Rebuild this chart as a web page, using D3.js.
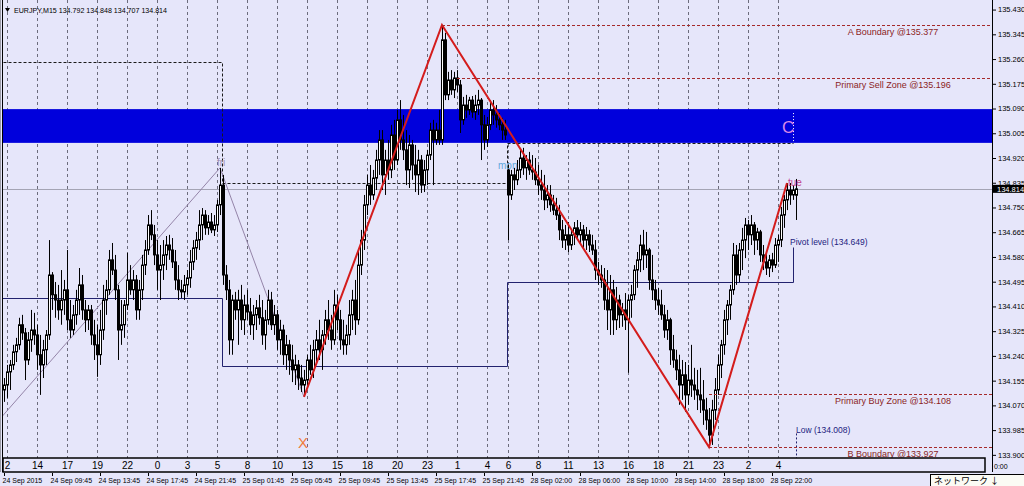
<!DOCTYPE html>
<html>
<head>
<meta charset="utf-8">
<title>EURJPY M15</title>
<script src="https://d3js.org/d3.v7.min.js"></script>
<style>
  body { margin: 0; background: #e6e6fa; }
  svg { display: block; font-family: "Liberation Sans", Arial, sans-serif; }
</style>
</head>
<body>
<script>

// EURJPY M15 bars, 24 Sep 05:45 .. 29 Sep 00:00 (weekend gap after bar 167)
const opens = [
134.123,134.140,134.185,134.209,134.254,134.278,134.347,134.319,134.226,134.295,
134.329,134.312,134.244,134.209,134.261,134.312,134.518,134.450,134.432,134.398,
134.432,134.467,134.364,134.329,134.381,134.432,134.484,134.398,134.364,134.398,
134.312,134.278,134.244,134.329,134.432,134.467,134.570,134.535,134.467,134.329,
134.347,134.415,134.501,134.467,134.501,134.398,134.467,134.552,134.604,134.690,
134.656,134.587,134.535,134.552,134.587,134.621,134.604,134.563,134.501,134.467,
134.460,134.484,134.508,134.563,134.611,134.638,134.690,134.724,134.680,134.700,
134.673,134.690,134.759,134.827,134.518,134.467,134.295,134.432,134.398,134.432,
134.364,134.415,134.391,134.347,134.381,134.405,134.371,134.312,134.364,134.432,
134.347,134.381,134.295,134.329,134.244,134.278,134.226,134.192,134.209,134.164,
134.140,134.157,134.226,134.192,134.261,134.295,134.261,134.312,134.364,134.329,
134.295,134.415,134.364,134.295,134.278,134.312,134.381,134.432,134.364,134.552,
134.638,134.759,134.827,134.793,134.851,134.913,134.982,134.862,134.913,134.879,
134.999,134.913,135.051,134.982,134.948,134.879,134.965,134.896,134.862,134.913,
134.827,134.879,134.930,135.016,134.982,135.016,134.982,135.326,135.137,135.188,
135.154,135.195,135.171,135.051,135.102,135.085,135.119,135.078,135.102,135.119,
135.034,134.982,135.034,135.085,135.068,135.051,135.034,135.016,
134.879,134.793,134.862,134.845,134.879,134.920,134.886,134.913,134.879,134.872,
134.845,134.827,134.810,134.776,134.793,134.759,134.741,134.724,134.673,134.638,
134.656,134.621,134.656,134.680,134.656,134.673,134.638,134.656,134.621,134.604,
134.535,134.518,134.501,134.432,134.398,134.467,134.364,134.432,134.381,134.398,
134.364,134.432,134.450,134.535,134.570,134.621,134.587,134.604,134.501,134.467,
134.432,134.415,134.381,134.329,134.364,134.261,134.226,134.192,134.140,134.175,
134.106,134.157,134.140,134.123,134.106,134.089,134.054,134.020,133.968,134.054,
134.123,134.209,134.278,134.364,134.415,134.467,134.587,134.518,134.604,134.638,
134.690,134.656,134.690,134.638,134.666,134.587,134.563,134.542,134.570,134.552,
134.621,134.638,134.724,134.776,134.810,134.793,134.792];

const highs = [
134.164,134.209,134.226,134.278,134.302,134.371,134.381,134.336,134.322,134.398,
134.388,134.347,134.312,134.295,134.329,134.638,134.528,134.494,134.484,134.535,
134.501,134.604,134.432,134.415,134.467,134.542,134.518,134.432,134.415,134.415,
134.364,134.347,134.398,134.484,134.501,134.604,134.628,134.587,134.484,134.432,
134.432,134.594,134.552,134.535,134.518,134.501,134.587,134.638,134.724,134.741,
134.690,134.638,134.621,134.638,134.652,134.656,134.645,134.604,134.552,134.501,
134.518,134.535,134.604,134.638,134.666,134.741,134.748,134.741,134.724,134.731,
134.724,134.776,134.886,134.862,134.552,134.501,134.450,134.460,134.467,134.484,
134.450,134.467,134.439,134.415,134.432,134.450,134.432,134.398,134.467,134.460,
134.415,134.398,134.364,134.347,134.312,134.295,134.278,134.244,134.226,134.209,
134.192,134.244,134.278,134.295,134.329,134.364,134.329,134.398,134.432,134.381,
134.467,134.450,134.398,134.364,134.347,134.432,134.467,134.501,134.604,134.673,
134.793,134.862,134.896,134.879,134.948,135.016,135.016,134.948,134.982,135.034,
135.051,135.085,135.119,135.068,135.016,134.999,134.982,134.965,134.948,134.930,
134.913,134.948,135.041,135.051,135.041,135.085,135.377,135.350,135.216,135.222,
135.216,135.222,135.188,135.130,135.137,135.130,135.133,135.137,135.154,135.126,
135.068,135.061,135.119,135.119,135.102,135.075,135.058,135.051,
134.896,134.879,134.886,134.913,134.948,134.955,134.930,134.941,134.930,134.920,
134.896,134.879,134.862,134.827,134.827,134.793,134.783,134.759,134.707,134.690,
134.700,134.673,134.700,134.707,134.700,134.690,134.683,134.673,134.656,134.638,
134.563,134.552,134.542,134.535,134.518,134.501,134.477,134.450,134.422,134.456,
134.450,134.484,134.552,134.597,134.656,134.673,134.666,134.611,134.587,134.501,
134.474,134.467,134.415,134.398,134.371,134.312,134.261,134.244,134.226,134.219,
134.209,134.278,134.199,134.192,134.199,134.157,134.096,134.061,134.089,134.164,
134.244,134.295,134.398,134.432,134.484,134.628,134.621,134.628,134.680,134.714,
134.707,134.724,134.700,134.680,134.673,134.621,134.597,134.587,134.594,134.645,
134.656,134.752,134.793,134.834,134.834,134.827,134.848];

const lows = [
134.082,134.096,134.123,134.192,134.219,134.261,134.295,134.157,134.209,134.254,
134.278,134.192,134.106,134.164,134.209,134.295,134.398,134.371,134.364,134.347,
134.381,134.329,134.302,134.312,134.347,134.381,134.364,134.322,134.329,134.278,
134.226,134.168,134.209,134.295,134.381,134.450,134.518,134.432,134.226,134.278,
134.302,134.398,134.450,134.432,134.364,134.364,134.432,134.518,134.587,134.638,
134.552,134.467,134.432,134.501,134.535,134.570,134.542,134.467,134.432,134.439,
134.432,134.450,134.474,134.535,134.570,134.604,134.638,134.656,134.656,134.662,
134.652,134.666,134.724,134.484,134.432,134.244,134.244,134.364,134.278,134.329,
134.312,134.364,134.312,134.295,134.329,134.347,134.278,134.261,134.347,134.329,
134.312,134.261,134.244,134.209,134.192,134.175,134.150,134.140,134.123,134.116,
134.099,134.140,134.175,134.164,134.209,134.226,134.192,134.278,134.295,134.261,
134.278,134.329,134.261,134.244,134.244,134.278,134.329,134.312,134.347,134.518,
134.604,134.724,134.759,134.776,134.810,134.862,134.810,134.793,134.845,134.851,
134.879,134.896,134.948,134.913,134.827,134.817,134.845,134.803,134.793,134.800,
134.803,134.827,134.913,134.827,134.965,134.965,134.965,135.119,135.119,135.137,
135.126,135.147,135.006,135.034,135.058,135.068,135.058,135.051,135.068,134.913,
134.948,134.958,135.016,135.034,135.024,135.016,134.982,134.982,
134.638,134.776,134.810,134.827,134.851,134.862,134.845,134.862,134.845,134.827,
134.793,134.776,134.741,134.748,134.735,134.724,134.707,134.638,134.611,134.604,
134.597,134.604,134.621,134.638,134.621,134.611,134.604,134.597,134.587,134.501,
134.484,134.474,134.398,134.329,134.312,134.312,134.329,134.336,134.340,134.329,
134.182,134.371,134.432,134.474,134.528,134.535,134.542,134.467,134.432,134.398,
134.381,134.364,134.302,134.295,134.209,134.199,134.157,134.072,134.089,134.048,
134.072,134.099,134.089,134.054,134.044,134.003,133.986,133.927,133.934,134.020,
134.106,134.164,134.244,134.312,134.364,134.450,134.484,134.494,134.535,134.576,
134.604,134.621,134.587,134.604,134.563,134.535,134.518,134.511,134.528,134.542,
134.563,134.614,134.680,134.741,134.759,134.776,134.707];

const closes = [
134.140,134.185,134.209,134.254,134.278,134.347,134.319,134.226,134.295,134.329,
134.312,134.244,134.209,134.261,134.312,134.518,134.450,134.432,134.398,134.432,
134.467,134.364,134.329,134.381,134.432,134.484,134.398,134.364,134.398,134.312,
134.278,134.244,134.329,134.432,134.467,134.570,134.535,134.467,134.329,134.347,
134.415,134.501,134.467,134.501,134.398,134.467,134.552,134.604,134.690,134.656,
134.587,134.535,134.552,134.587,134.621,134.604,134.563,134.501,134.467,134.460,
134.484,134.508,134.563,134.611,134.638,134.690,134.724,134.680,134.700,134.673,
134.690,134.759,134.827,134.518,134.467,134.295,134.432,134.398,134.432,134.364,
134.415,134.391,134.347,134.381,134.405,134.371,134.312,134.364,134.432,134.347,
134.381,134.295,134.329,134.244,134.278,134.226,134.192,134.209,134.164,134.140,
134.157,134.226,134.192,134.261,134.295,134.261,134.312,134.364,134.329,134.295,
134.415,134.364,134.295,134.278,134.312,134.381,134.432,134.364,134.552,134.638,
134.759,134.827,134.793,134.851,134.913,134.982,134.862,134.913,134.879,134.999,
134.913,135.051,134.982,134.948,134.879,134.965,134.896,134.862,134.913,134.827,
134.879,134.930,135.016,134.982,135.016,134.982,135.326,135.137,135.188,135.154,
135.195,135.171,135.051,135.102,135.085,135.119,135.078,135.102,135.119,135.034,
134.982,135.034,135.085,135.068,135.051,135.034,135.016,134.999,
134.793,134.862,134.845,134.879,134.920,134.886,134.913,134.879,134.872,134.845,
134.827,134.810,134.776,134.793,134.759,134.741,134.724,134.673,134.638,134.656,
134.621,134.656,134.680,134.656,134.673,134.638,134.656,134.621,134.604,134.535,
134.518,134.501,134.432,134.398,134.467,134.364,134.432,134.381,134.398,134.364,
134.432,134.450,134.535,134.570,134.621,134.587,134.604,134.501,134.467,134.432,
134.415,134.381,134.329,134.364,134.261,134.226,134.192,134.140,134.175,134.106,
134.157,134.140,134.123,134.106,134.089,134.054,134.020,133.968,134.054,134.123,
134.209,134.278,134.364,134.415,134.467,134.587,134.518,134.604,134.638,134.690,
134.656,134.690,134.638,134.666,134.587,134.563,134.542,134.570,134.552,134.621,
134.638,134.724,134.776,134.810,134.793,134.810,134.814];

// right price scale
const priceTicks = [135.430,135.345,135.260,135.175,135.090,135.005,134.920,134.835,134.750,
  134.665,134.580,134.495,134.410,134.325,134.240,134.155,134.070,133.985,133.900];

// local-hour labels (bar index where each sits) and broker date labels
const hourBars = [1,11,21,31,41,51,61,71,81,91,101,111,121,131,141,151,161,168,178,188,198,208,218,228,238,248,258];
const hourLabels = ["2","14","17","19","22","0","3","5","8","10","13","15","18","20","23","1","4","6","8","11","13","16","18","21","23","2","4"];
const dateBars = [0,16,32,48,64,80,96,112,128,144,160,176,192,208,224,240,256];
const dateLabels = ["24 Sep 2015","24 Sep 09:45","24 Sep 13:45","24 Sep 17:45","24 Sep 21:45",
  "25 Sep 01:45","25 Sep 05:45","25 Sep 09:45","25 Sep 13:45","25 Sep 17:45","25 Sep 21:45",
  "28 Sep 02:00","28 Sep 06:00","28 Sep 10:00","28 Sep 14:00","28 Sep 18:00","28 Sep 22:00"];

// pattern objects
const levelNames = ["A Boundary @135.377","Primary Sell Zone @135.196","Primary Buy Zone @134.108","B Boundary @133.927"];
const levelPrices = [135.377,135.196,134.108,133.927];
const levelFrom = [146,151,235,235];
const zigBars = [100,146,235,261];
const zigPrices = [134.099,135.377,133.927,134.834];
const legBars = [-2,72,100];
const legPrices = [134.016,134.886,134.099];
const dayEdges = [-2,72.5,167.5,263];
const dayHigh = [135.250,134.834,134.972];
const dayLow = [134.439,134.205,134.494];
const zoneTop = 135.088, zoneBottom = 134.972;
const pivot = 134.649, pivotLow = 134.008, bid = 134.814;

const width = 1024, height = 486;
const left = 3, right = 992, bottom = 472;

const svg = d3.select("body").append("svg")
  .attr("width", width).attr("height", height);

svg.append("rect").attr("width", width).attr("height", height).attr("fill", "#e6e6fa");

const x = d3.scaleLinear().domain([0, 264]).range([4, 796]);
const y = d3.scaleLinear().domain([133.927, 135.377]).range([447, 25]);

svg.append("clipPath").attr("id", "clip")
  .append("rect").attr("x", left).attr("y", 0).attr("width", right - left).attr("height", bottom);
const plot = svg.append("g").attr("clip-path", "url(#clip)");

// vertical hour grid
plot.append("g").selectAll("line").data(hourBars).join("line")
  .attr("x1", d => x(d) + 0.5).attr("x2", d => x(d) + 0.5)
  .attr("y1", 0).attr("y2", bottom)
  .attr("stroke", "#6c6c7c").attr("stroke-dasharray", "3,3");

// C zone band
plot.append("rect")
  .attr("x", left).attr("width", right - left)
  .attr("y", y(zoneTop)).attr("height", y(zoneBottom) - y(zoneTop))
  .attr("fill", "#0000dc");
plot.append("line")
  .attr("x1", x(263) + 0.5).attr("x2", x(263) + 0.5)
  .attr("y1", y(zoneTop) + 4).attr("y2", y(zoneBottom))
  .attr("stroke", "#fff").attr("stroke-dasharray", "1,2");

// bid line
plot.append("line")
  .attr("x1", left).attr("x2", right)
  .attr("y1", Math.round(y(bid)) + 0.5).attr("y2", Math.round(y(bid)) + 0.5)
  .attr("stroke", "#a4a4b4");

// day high (dashed) / day low (solid) steps
const stepHigh = [], stepLow = [];
dayHigh.forEach((v, k) => { stepHigh.push([dayEdges[k], v], [dayEdges[k + 1], v]); });
dayLow.forEach((v, k) => { stepLow.push([dayEdges[k], v], [dayEdges[k + 1], v]); });
stepLow.push([dayEdges[3], 134.615]);
const line = d3.line().x(d => Math.round(x(d[0])) + 0.5).y(d => Math.round(y(d[1])) + 0.5);
plot.append("path").attr("d", line(stepHigh)).attr("fill", "none")
  .attr("stroke", "#1a1a1a").attr("stroke-dasharray", "3,2");
plot.append("path").attr("d", line(stepLow)).attr("fill", "none")
  .attr("stroke", "#22226e");
plot.append("line")
  .attr("x1", x(264) + 0.5).attr("x2", x(264) + 0.5)
  .attr("y1", y(pivotLow) + 10).attr("y2", bottom)
  .attr("stroke", "#22226e").attr("stroke-dasharray", "2,2");

// thin XA leg
const pline = d3.line().x((d, k) => x(legBars[k])).y(d => y(d));
plot.append("path").attr("d", pline(legPrices)).attr("fill", "none")
  .attr("stroke", "#9484a8").attr("stroke-width", 1);

// candles
const bars = closes.map((c, i) => ({ i, o: opens[i], h: highs[i], l: lows[i], c }));
const cg = plot.append("g");
cg.selectAll("line").data(bars).join("line")
  .attr("x1", d => x(d.i) + 0.5).attr("x2", d => x(d.i) + 0.5)
  .attr("y1", d => y(d.h)).attr("y2", d => y(d.l))
  .attr("stroke", "#000");
cg.selectAll("rect").data(bars).join("rect")
  .attr("x", d => x(d.i) - 0.5).attr("width", 2)
  .attr("y", d => y(Math.max(d.o, d.c)))
  .attr("height", d => Math.max(1, Math.abs(y(d.o) - y(d.c))))
  .attr("fill", d => d.c >= d.o ? "#fff" : "#000")
  .attr("stroke", "#000").attr("stroke-width", 1);

// red zigzag
const zline = d3.line().x((d, k) => x(zigBars[k])).y(d => y(d));
plot.append("path").attr("d", zline(zigPrices)).attr("fill", "none")
  .attr("stroke", "#d41c1c").attr("stroke-width", 2);

// pattern levels
const lv = plot.append("g");
lv.selectAll("line").data(levelPrices).join("line")
  .attr("x1", (d, k) => x(levelFrom[k])).attr("x2", right)
  .attr("y1", d => Math.round(y(d)) + 0.5).attr("y2", d => Math.round(y(d)) + 0.5)
  .attr("stroke", "#a52a2a").attr("stroke-dasharray", "3,2");
lv.selectAll("text").data(levelNames).join("text")
  .attr("x", 893).attr("y", (d, k) => y(levelPrices[k]) + 10)
  .attr("text-anchor", "middle").attr("font-size", 9).attr("fill", "#8b1e1e")
  .text(d => d);

// markers
plot.append("text").attr("x", x(72) - 3).attr("y", y(highs[72]) - 2).attr("font-size", 10)
  .attr("fill", "#a090b4").text("fri");
plot.append("text").attr("x", x(168) - 10).attr("y", y(highs[168]) + 4).attr("font-size", 10)
  .attr("fill", "#5fa6dc").text("mon");
plot.append("text").attr("x", x(261) + 1).attr("y", y(zigPrices[3]) + 3).attr("font-size", 10)
  .attr("fill", "#c0408c").text("tue");
plot.append("text").attr("x", x(100) - 1).attr("y", y(zigPrices[0]) + 51).attr("font-size", 15)
  .attr("text-anchor", "middle").attr("fill", "#f07a3a").text("X");
plot.append("text").attr("x", x(259) + 1).attr("y", (y(zoneTop) + y(zoneBottom)) / 2 + 7)
  .attr("font-size", 17).attr("fill", "#d888e8").text("C");
plot.append("text").attr("x", x(262)).attr("y", y(pivot) + 8).attr("font-size", 8.5)
  .attr("fill", "#22227e").text("Pivot level (" + pivot.toFixed(3) + ")");
plot.append("text").attr("x", x(264)).attr("y", y(pivotLow) + 10).attr("font-size", 8.5)
  .attr("fill", "#22227e").text("Low (" + pivotLow.toFixed(3) + ")");

// frame
svg.append("line").attr("x1", 0.5).attr("x2", 0.5).attr("y1", 0).attr("y2", bottom).attr("stroke", "#9a9aa6");
svg.append("line").attr("x1", 2.5).attr("x2", 2.5).attr("y1", 0).attr("y2", bottom).attr("stroke", "#000");

// title
svg.append("path").attr("d", "M5,8 L10,8 L7.5,12 Z").attr("fill", "#000");
svg.append("text").attr("x", 14).attr("y", 12.5).attr("font-size", 7.5)
  .attr("textLength", 153).attr("lengthAdjust", "spacingAndGlyphs")
  .text("EURJPY,M15  134.792 134.848 134.707 134.814");

// price axis
svg.append("line").attr("x1", right + 0.5).attr("x2", right + 0.5).attr("y1", 0).attr("y2", bottom)
  .attr("stroke", "#000");
const ya = svg.append("g").attr("transform", `translate(${right + 1},0)`)
  .call(d3.axisRight(y).tickValues(priceTicks).tickFormat(d3.format(".3f")).tickSize(3).tickPadding(2));
ya.select(".domain").remove();
ya.selectAll("text").attr("font-size", 7.5).attr("font-family", "Liberation Sans, Arial, sans-serif");

// current price tag
svg.append("rect").attr("x", right + 1).attr("y", y(bid) - 4).attr("width", width - right).attr("height", 8).attr("fill", "#000");
svg.append("text").attr("x", right + 5).attr("y", y(bid) + 3).attr("font-size", 7.5).attr("fill", "#fff")
  .text(bid.toFixed(3));

// hour label box
svg.append("rect").attr("x", left).attr("y", 458).attr("width", 982).attr("height", 14)
  .attr("fill", "#e6e6fa").attr("stroke", "#000").attr("stroke-width", 1.5);
svg.append("g").selectAll("text").data(hourLabels).join("text")
  .attr("x", (d, k) => x(hourBars[k]) + 0.5).attr("y", 469)
  .attr("text-anchor", "middle").attr("font-size", 10).text(d => d);
svg.append("text").attr("x", 994).attr("y", 469).attr("font-size", 7).text("0:00");

// date axis
const xa = svg.append("g").attr("transform", `translate(0,${bottom + 1})`)
  .call(d3.axisBottom(x).tickValues(dateBars).tickFormat((d, k) => dateLabels[k]).tickSize(3).tickPadding(2));
xa.select(".domain").remove();
xa.selectAll("text").attr("text-anchor", "start").attr("dx", -2).attr("font-size", 7)
  .attr("font-family", "Liberation Sans, Arial, sans-serif");

// status bar corner
svg.append("rect").attr("x", 930.5).attr("y", 474.5).attr("width", 100).attr("height", 20)
  .attr("fill", "#fbfbf4").attr("stroke", "#000");
svg.append("text").attr("x", 934).attr("y", 483.5).attr("font-size", 9)
  .attr("font-family", "Noto Sans CJK JP").text("ネットワーク ↓");

</script>
</body>
</html>
